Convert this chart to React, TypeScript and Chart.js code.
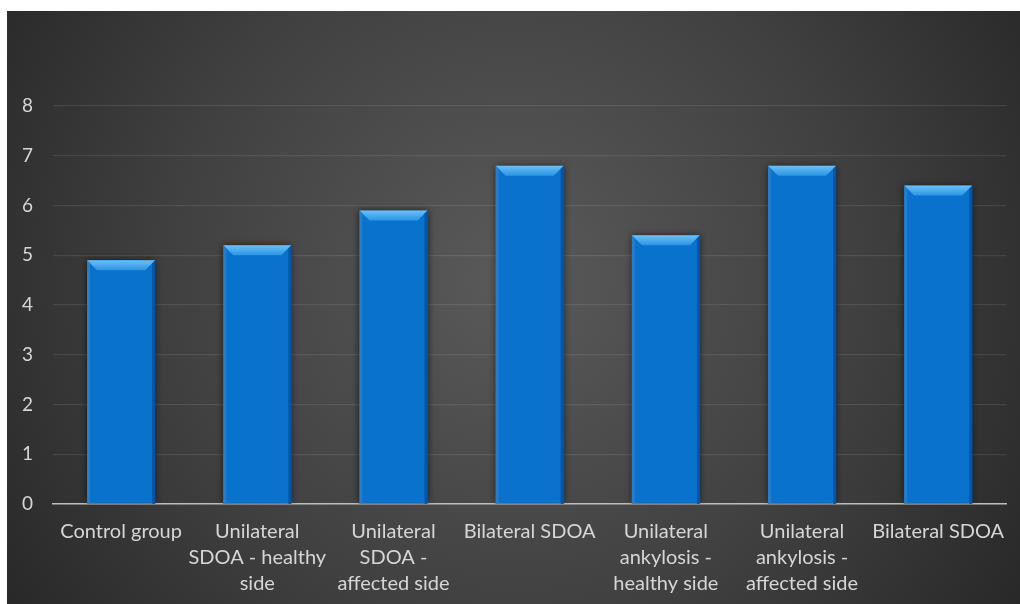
import React, { useEffect, useRef } from "react";
import { Chart, registerables } from "chart.js";

Chart.register(...registerables);

const categories: string[][] = [
  ["Control group"],
  ["Unilateral", "SDOA - healthy", "side"],
  ["Unilateral", "SDOA -", "affected side"],
  ["Bilateral SDOA"],
  ["Unilateral", "ankylosis -", "healthy side"],
  ["Unilateral", "ankylosis -", "affected side"],
  ["Bilateral SDOA"],
];
const values: number[] = [4.9, 5.2, 5.9, 6.8, 5.4, 6.8, 6.4];
const yTicks: number[] = [0, 1, 2, 3, 4, 5, 6, 7, 8];

const FONT = "Lato, 'Open Sans', sans-serif";

const bgPlugin = {
  id: "bgPlugin",
  beforeDraw(chart: any) {
    const { ctx, width, height } = chart;
    ctx.save();
    const g = ctx.createRadialGradient(width * 0.5, height * 0.45, 0, width * 0.5, height * 0.45, width * 0.62);
    g.addColorStop(0, "#5a5a5a");
    g.addColorStop(0.55, "#404040");
    g.addColorStop(1, "#262626");
    ctx.fillStyle = g;
    ctx.fillRect(0, 0, width, height);
    ctx.restore();
  },
  beforeDatasetsDraw(chart: any) {
    const ctx = chart.ctx;
    ctx.save();
    ctx.shadowColor = "rgba(0,0,0,0.65)";
    ctx.shadowBlur = 7;
    ctx.shadowOffsetX = 0;
    ctx.shadowOffsetY = 0;
  },
  afterDatasetsDraw(chart: any) {
    const ctx = chart.ctx;
    ctx.restore();
    const meta = chart.getDatasetMeta(0);
    const bottom = chart.chartArea.bottom;
    ctx.save();
    meta.data.forEach((bar: any) => {
      const { x, y, width } = bar.getProps(["x", "y", "width"], true);
      const l = x - width / 2;
      const r = x + width / 2;
      const b = 10;
      // top bevel
      ctx.beginPath();
      ctx.moveTo(l, y);
      ctx.lineTo(r, y);
      ctx.lineTo(r - b, y + b);
      ctx.lineTo(l + b, y + b);
      ctx.closePath();
      const tg = ctx.createLinearGradient(0, y, 0, y + b);
      tg.addColorStop(0, "#6cc0f6");
      tg.addColorStop(1, "#2a95e4");
      ctx.fillStyle = tg;
      ctx.fill();
      // left bevel
      ctx.beginPath();
      ctx.moveTo(l, y);
      ctx.lineTo(l + 3, y + 3);
      ctx.lineTo(l + 3, bottom);
      ctx.lineTo(l, bottom);
      ctx.closePath();
      ctx.fillStyle = "rgba(40,130,210,0.8)";
      ctx.fill();
      // right bevel
      ctx.beginPath();
      ctx.moveTo(r, y);
      ctx.lineTo(r - 3, y + 3);
      ctx.lineTo(r - 3, bottom);
      ctx.lineTo(r, bottom);
      ctx.closePath();
      ctx.fillStyle = "rgba(10,70,140,0.7)";
      ctx.fill();
    });
    ctx.restore();
  },
};

export default function App() {
  const ref = useRef<HTMLCanvasElement | null>(null);
  useEffect(() => {
    if (!ref.current) return;
    const chart = new Chart(ref.current, {
      type: "bar",
      data: {
        labels: categories,
        datasets: [
          {
            data: values,
            backgroundColor: "#0872cc",
            borderWidth: 0,
            barPercentage: 0.5,
            categoryPercentage: 1,
          },
        ],
      },
      options: {
        animation: false,
        responsive: false,
        maintainAspectRatio: false,
        layout: { padding: { top: 95, right: 12, bottom: 0, left: 0 } },
        plugins: { legend: { display: false }, tooltip: { enabled: false } },
        scales: {
          x: {
            afterFit(scale: any) {
              scale.height = 100;
            },
            grid: { display: false, drawTicks: false },
            border: { display: true, color: "#bdbdbd", width: 1.5 },
            ticks: {
              color: "#d6d6d6",
              padding: 15,
              maxRotation: 0,
              autoSkip: false,
              font: { family: FONT, size: 20, lineHeight: 1.3 },
            },
          },
          y: {
            min: 0,
            max: 8,
            afterFit(scale: any) {
              scale.width = 46;
            },
            afterBuildTicks(scale: any) {
              scale.ticks = yTicks.map((v) => ({ value: v }));
            },
            grid: { color: "rgba(255,255,255,0.09)", lineWidth: 1.2, drawTicks: false },
            border: { display: false },
            ticks: {
              color: "#d6d6d6",
              padding: 20,
              font: { family: FONT, size: 19 },
            },
          },
        },
      },
      plugins: [bgPlugin],
    });
    return () => chart.destroy();
  }, []);
  return (
    <div style={{ position: "fixed", left: 7, top: 11, width: 1013, height: 593 }}>
      <canvas ref={ref} width={1013} height={593} style={{ display: "block" }} />
    </div>
  );
}
